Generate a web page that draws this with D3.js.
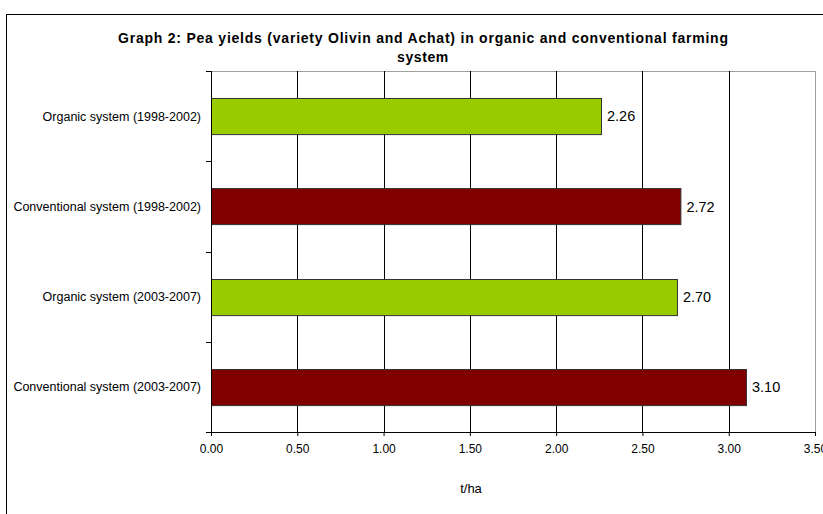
<!DOCTYPE html>
<html>
<head>
<meta charset="utf-8">
<script src="https://cdn.jsdelivr.net/npm/d3@7"></script>
<style>
  body { margin: 0; background: #fff; }
  svg { display: block; font-family: Arial, "Liberation Sans", sans-serif; }
</style>
</head>
<body>
<svg id="chart" width="823" height="514"></svg>
<script>
// data
const categories = ["Organic system (1998-2002)", "Conventional system (1998-2002)", "Organic system (2003-2007)", "Conventional system (2003-2007)"];
const yields = [2.26, 2.72, 2.70, 3.10];
const barColors = ["#99cc00", "#800000", "#99cc00", "#800000"];
const xTickValues = [0, 0.5, 1, 1.5, 2, 2.5, 3, 3.5];

const svg = d3.select("#chart");
const margin = {top: 71, right: 8, bottom: 82, left: 211};
const width = 823 - margin.left - margin.right,
      height = 514 - margin.top - margin.bottom;

// outer chart frame
svg.append("rect")
    .attr("x", 6.5).attr("y", 14.5)
    .attr("width", 830).attr("height", 520)
    .attr("fill", "none").attr("stroke", "#000").attr("stroke-width", 1);

svg.append("text")
    .attr("x", 423).attr("y", 43)
    .attr("text-anchor", "middle")
    .attr("textLength", 610).attr("lengthAdjust", "spacing")
    .style("font-weight", "bold").style("font-size", "14px")
    .text("Graph 2: Pea yields (variety Olivin and Achat) in organic and conventional farming");
svg.append("text")
    .attr("x", 423).attr("y", 62)
    .attr("text-anchor", "middle")
    .style("font-weight", "bold").style("font-size", "14px")
    .style("letter-spacing", "0.6px")
    .text("system");

const g = svg.append("g").attr("transform", `translate(${margin.left},${margin.top})`);

const x = d3.scaleLinear().domain([0, 3.5]).range([0, width]);
const y = d3.scaleBand().domain(categories).range([0, height]).paddingInner(0.6).paddingOuter(0.3);
const yEdge = d3.scaleLinear().domain([0, categories.length]).range([0, height]);

// plot area border (grey)
g.append("rect")
    .attr("x", 0.5).attr("y", 0.5)
    .attr("width", width).attr("height", height)
    .attr("fill", "none").attr("stroke", "#a0a0a0");

// vertical gridlines
g.append("g")
    .selectAll("line")
    .data(xTickValues.slice(1))
    .join("line")
    .attr("x1", d => Math.round(x(d)) + 0.5)
    .attr("x2", d => Math.round(x(d)) + 0.5)
    .attr("y1", 0).attr("y2", height)
    .attr("stroke", d => d === 3.5 ? "#a0a0a0" : "#000");

g.selectAll(".bar")
    .data(yields)
    .join("rect")
    .attr("class", "bar")
    .attr("x", x(0) + 0.5)
    .attr("y", (d, i) => Math.round(y(categories[i])) + 0.5)
    .attr("width", d => x(d))
    .attr("height", y.bandwidth())
    .attr("fill", (d, i) => barColors[i])
    .attr("stroke", "#333").attr("stroke-width", 1);

g.selectAll(".val")
    .data(yields)
    .join("text")
    .attr("class", "val")
    .attr("x", d => x(d) + 6)
    .attr("y", (d, i) => y(categories[i]) + y.bandwidth() / 2)
    .attr("dy", "0.36em")
    .style("font-size", "14.5px")
    .text(d => d.toFixed(2));

// left axis with ticks at category boundaries
const gy = g.append("g");
gy.append("line")
    .attr("x1", 0.5).attr("x2", 0.5).attr("y1", 0).attr("y2", height)
    .attr("stroke", "#000");
gy.selectAll(".ytick")
    .data(d3.range(categories.length + 1))
    .join("line")
    .attr("class", "ytick")
    .attr("x1", -5).attr("x2", 0.5)
    .attr("y1", d => Math.round(yEdge(d)) + 0.5)
    .attr("y2", d => Math.round(yEdge(d)) + 0.5)
    .attr("stroke", "#000");
gy.selectAll(".ylab")
    .data(categories)
    .join("text")
    .attr("class", "ylab")
    .attr("x", -10)
    .attr("y", d => y(d) + y.bandwidth() / 2)
    .attr("dy", "0.36em")
    .attr("text-anchor", "end")
    .style("font-size", "12.5px")
    .text(d => d);

// bottom axis
const gx = g.append("g").attr("transform", `translate(0,${height})`)
    .call(d3.axisBottom(x).tickValues(xTickValues).tickFormat(d3.format(".2f")).tickSize(4).tickSizeOuter(0));
gx.select(".domain").attr("stroke", "#000");
gx.selectAll("line").attr("stroke", "#000");
gx.selectAll("text")
    .attr("dy", "1.2em")
    .style("font-size", "12px")
    .style("font-family", "Arial, 'Liberation Sans', sans-serif")
    .attr("fill", "#000");

svg.append("text")
    .attr("x", 471).attr("y", 493)
    .attr("text-anchor", "middle")
    .style("font-size", "13px")
    .text("t/ha");
</script>
</body>
</html>
